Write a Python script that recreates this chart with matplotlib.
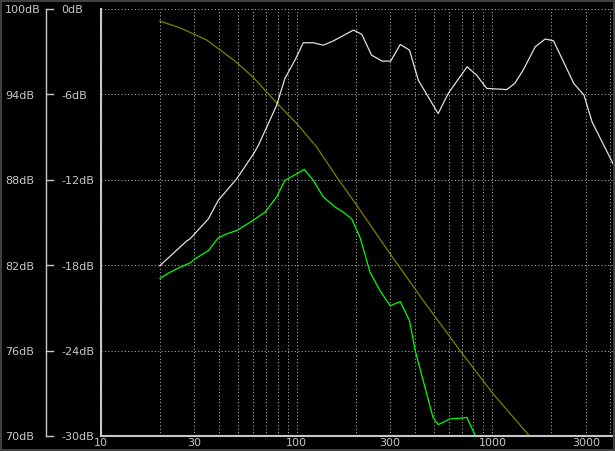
import numpy as np
import matplotlib
matplotlib.use("Agg")
import matplotlib.pyplot as plt
from matplotlib.patches import Rectangle
from matplotlib.lines import Line2D

# frequency response readings (Hz, dB relative)
white_f = [20, 27.4, 28.5, 35.4, 39.7, 49.4, 60, 63.7, 79, 87, 98, 108, 121.5, 136.6, 153.5,
           195, 215, 241, 273, 302, 338, 377, 418, 528, 594, 742, 830, 935, 1183, 1300,
           1434, 1655, 1860, 2050, 2307, 2604, 2937, 3230, 4250]
white_db = [-18.03, -16.3, -16.15, -14.74, -13.45, -11.92, -10.2, -9.58, -6.76, -4.88, -3.59,
            -2.37, -2.37, -2.54, -2.25, -1.48, -1.78, -3.24, -3.66, -3.66, -2.49, -2.89, -5.0,
            -7.35, -5.94, -4.06, -4.65, -5.58, -5.66, -5.23, -4.3, -2.65, -2.11, -2.23, -3.71,
            -5.23, -6.06, -7.94, -11.2]

green_f = [20, 22.5, 25.3, 28.5, 30.2, 35.4, 39.7, 43.9, 49.4, 57.8, 68.9, 79, 87, 92.3,
           109.4, 121.5, 136.6, 157.4, 172.8, 190.9, 211, 237, 266.6, 300, 338, 377, 403,
           497, 528, 607, 684, 741, 812, 840]
green_db = [-18.92, -18.5, -18.15, -17.84, -17.56, -16.97, -16.08, -15.8, -15.56, -14.98,
            -14.27, -13.2, -12.04, -11.85, -11.27, -12.04, -13.2, -13.92, -14.27, -14.74,
            -16.08, -18.5, -19.79, -20.85, -20.56, -21.9, -24.0, -28.7, -29.2, -28.8, -28.75,
            -28.7, -29.9, -31.0]

yellow_f = [20, 25.3, 34.7, 48.4, 60, 79, 100, 126.5, 160, 194.7, 300, 444, 683, 1011, 1525, 1650]
yellow_db = [-0.85, -1.32, -2.18, -3.66, -4.8, -6.6, -8.05, -9.7, -11.8, -13.45, -17.2, -20.5,
             -24.0, -27.06, -29.9, -30.6]

rel_levels = [0, -6, -12, -18, -24, -30]
rel_labels = ["0dB", "-6dB", "-12dB", "-18dB", "-24dB", "-30dB"]
spl_labels = ["100dB", "94dB", "88dB", "82dB", "76dB", "70dB"]
x_ticks = [10, 30, 100, 300, 1000, 3000]
x_labels = ["10", "30", "100", "300", "1000", "3000"]

txt = "#c8c8c8"
W, H = 615, 451
fig = plt.figure(figsize=(W / 100, H / 100), dpi=100, facecolor="black")
ax = fig.add_axes([101 / W, (H - 436) / H, 512 / W, 427 / H], facecolor="black")

ax.set_xscale("log")
ax.set_xlim(10, 4130)
ax.set_ylim(-30, 0)

ax.plot(yellow_f, yellow_db, color="#808000", lw=0.9)
ax.plot(white_f, white_db, color="#e0e0e0", lw=0.9)
ax.plot(green_f, green_db, color="#00ff00", lw=0.9)

minor = [m * d for d in (10, 100, 1000) for m in range(2, 10) if m * d < 4130]
ax.set_xticks(x_ticks)
ax.set_xticklabels(x_labels)
ax.set_xticks(minor, minor=True)
ax.xaxis.set_minor_formatter(plt.NullFormatter())
ax.set_yticks(rel_levels)
ax.set_yticklabels([])
ax.tick_params(axis="both", which="both", length=0, colors=txt, labelsize=8, pad=1.5)
ax.grid(True, which="both", color="#a8a8a8", linestyle=(0, (1, 2)), linewidth=0.8)

for s in ("top", "right"):
    ax.spines[s].set_visible(False)
for s in ("left", "bottom"):
    ax.spines[s].set_color("#c8c8c8")
    ax.spines[s].set_linewidth(1.5)
ax.spines["bottom"].set_bounds(10, 4300)

# left bracket with both scales
tr = ax.get_yaxis_transform()
bx = (45.5 - 101) / 512
tx = (53 - 101) / 512
ax.add_line(Line2D([bx, bx], [0, -30], transform=tr, color=txt, lw=1.0, clip_on=False))
for lv, l1, l2 in zip(rel_levels, spl_labels, rel_labels):
    ax.add_line(Line2D([bx, tx], [lv, lv], transform=tr, color=txt, lw=1.0, clip_on=False))
    ax.text((5 - 101) / 512, lv - 0.1, l1, transform=tr, color=txt, fontsize=8,
            ha="left", va="center")
    ax.text((61 - 101) / 512, lv - 0.1, l2, transform=tr, color=txt, fontsize=8,
            ha="left", va="center")

fig.add_artist(Rectangle((0, 0), 1, 1, transform=fig.transFigure, fill=False,
                         ec="#404040", lw=2.9))

fig.savefig("out.png", dpi=100, facecolor="black")
